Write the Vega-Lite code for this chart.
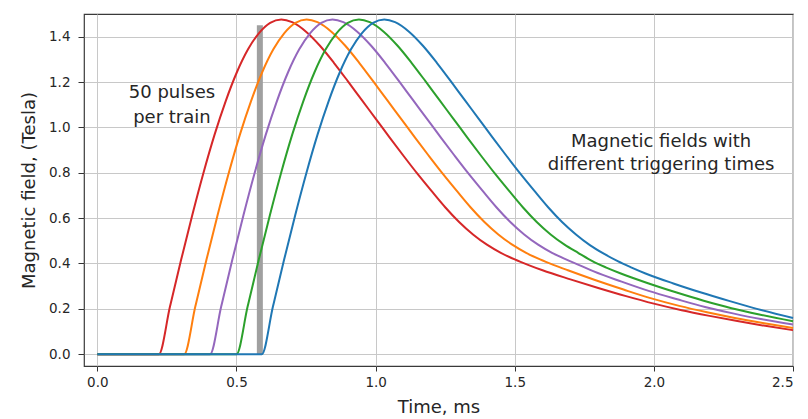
{
  "$schema": "https://vega.github.io/schema/vega-lite/v6.json",
  "width": 709,
  "height": 352,
  "autosize": {"type": "none"},
  "padding": {"left": 84, "top": 14, "right": 15, "bottom": 53},
  "background": "white",
  "config": {
    "view": {"stroke": "#3a3a3a", "strokeWidth": 1.2},
    "font": "DejaVu Sans",
    "axis": {
      "grid": true,
      "gridColor": "#c8c8c8",
      "gridWidth": 1,
      "domain": false,
      "tickColor": "#333333",
      "tickSize": 6,
      "labelColor": "#262626",
      "titleColor": "#262626",
      "labelFontSize": 13.5,
      "titleFontSize": 18,
      "titleFontWeight": "normal",
      "labelFont": "DejaVu Sans",
      "titleFont": "DejaVu Sans"
    }
  },
  "datasets": {
    "curves": [
      {"t": 0, "B": 0, "c": "1"}, {"t": 0.221, "B": 0, "c": "1"}, {"t": 0.261, "B": 0.21, "c": "1"}, {"t": 0.301, "B": 0.416, "c": "1"}, {"t": 0.341, "B": 0.613, "c": "1"}, {"t": 0.381, "B": 0.798, "c": "1"}, {"t": 0.421, "B": 0.967, "c": "1"}, {"t": 0.461, "B": 1.115, "c": "1"}, {"t": 0.501, "B": 1.242, "c": "1"}, {"t": 0.541, "B": 1.343, "c": "1"}, {"t": 0.581, "B": 1.416, "c": "1"}, {"t": 0.621, "B": 1.461, "c": "1"}, {"t": 0.661, "B": 1.476, "c": "1"},
      {"t": 0.70, "B": 1.464, "c": "1"}, {"t": 0.75, "B": 1.422, "c": "1"}, {"t": 0.80, "B": 1.36, "c": "1"}, {"t": 0.85, "B": 1.285, "c": "1"}, {"t": 0.90, "B": 1.204, "c": "1"}, {"t": 0.95, "B": 1.121, "c": "1"}, {"t": 1.00, "B": 1.039, "c": "1"}, {"t": 1.05, "B": 0.956, "c": "1"}, {"t": 1.10, "B": 0.875, "c": "1"}, {"t": 1.15, "B": 0.796, "c": "1"}, {"t": 1.20, "B": 0.721, "c": "1"}, {"t": 1.25, "B": 0.648, "c": "1"}, {"t": 1.30, "B": 0.583, "c": "1"}, {"t": 1.35, "B": 0.528, "c": "1"}, {"t": 1.40, "B": 0.483, "c": "1"}, {"t": 1.45, "B": 0.447, "c": "1"}, {"t": 1.50, "B": 0.418, "c": "1"}, {"t": 1.55, "B": 0.393, "c": "1"}, {"t": 1.60, "B": 0.37, "c": "1"}, {"t": 1.70, "B": 0.33, "c": "1"}, {"t": 1.80, "B": 0.292, "c": "1"}, {"t": 1.90, "B": 0.256, "c": "1"}, {"t": 2.00, "B": 0.223, "c": "1"}, {"t": 2.10, "B": 0.194, "c": "1"}, {"t": 2.20, "B": 0.169, "c": "1"}, {"t": 2.30, "B": 0.146, "c": "1"}, {"t": 2.40, "B": 0.125, "c": "1"}, {"t": 2.50, "B": 0.106, "c": "1"},

      {"t": 0, "B": 0, "c": "2"}, {"t": 0.312, "B": 0, "c": "2"}, {"t": 0.352, "B": 0.21, "c": "2"}, {"t": 0.392, "B": 0.416, "c": "2"}, {"t": 0.432, "B": 0.613, "c": "2"}, {"t": 0.472, "B": 0.798, "c": "2"}, {"t": 0.512, "B": 0.967, "c": "2"}, {"t": 0.552, "B": 1.115, "c": "2"}, {"t": 0.592, "B": 1.242, "c": "2"}, {"t": 0.632, "B": 1.343, "c": "2"}, {"t": 0.672, "B": 1.416, "c": "2"}, {"t": 0.712, "B": 1.461, "c": "2"}, {"t": 0.752, "B": 1.476, "c": "2"},
      {"t": 0.791, "B": 1.464, "c": "2"}, {"t": 0.841, "B": 1.422, "c": "2"}, {"t": 0.891, "B": 1.36, "c": "2"}, {"t": 0.941, "B": 1.285, "c": "2"}, {"t": 0.991, "B": 1.204, "c": "2"}, {"t": 1.041, "B": 1.121, "c": "2"}, {"t": 1.091, "B": 1.039, "c": "2"}, {"t": 1.141, "B": 0.956, "c": "2"}, {"t": 1.191, "B": 0.875, "c": "2"}, {"t": 1.241, "B": 0.796, "c": "2"}, {"t": 1.291, "B": 0.721, "c": "2"}, {"t": 1.341, "B": 0.648, "c": "2"}, {"t": 1.391, "B": 0.583, "c": "2"}, {"t": 1.441, "B": 0.528, "c": "2"}, {"t": 1.491, "B": 0.483, "c": "2"}, {"t": 1.541, "B": 0.447, "c": "2"}, {"t": 1.591, "B": 0.418, "c": "2"}, {"t": 1.641, "B": 0.393, "c": "2"}, {"t": 1.691, "B": 0.37, "c": "2"}, {"t": 1.791, "B": 0.326, "c": "2"}, {"t": 1.891, "B": 0.285, "c": "2"}, {"t": 1.991, "B": 0.246, "c": "2"}, {"t": 2.091, "B": 0.213, "c": "2"}, {"t": 2.191, "B": 0.185, "c": "2"}, {"t": 2.291, "B": 0.16, "c": "2"}, {"t": 2.391, "B": 0.138, "c": "2"}, {"t": 2.5, "B": 0.116, "c": "2"},

      {"t": 0, "B": 0, "c": "3"}, {"t": 0.405, "B": 0, "c": "3"}, {"t": 0.445, "B": 0.21, "c": "3"}, {"t": 0.485, "B": 0.416, "c": "3"}, {"t": 0.525, "B": 0.613, "c": "3"}, {"t": 0.565, "B": 0.798, "c": "3"}, {"t": 0.605, "B": 0.967, "c": "3"}, {"t": 0.645, "B": 1.115, "c": "3"}, {"t": 0.685, "B": 1.242, "c": "3"}, {"t": 0.725, "B": 1.343, "c": "3"}, {"t": 0.765, "B": 1.416, "c": "3"}, {"t": 0.805, "B": 1.461, "c": "3"}, {"t": 0.845, "B": 1.476, "c": "3"},
      {"t": 0.884, "B": 1.464, "c": "3"}, {"t": 0.934, "B": 1.422, "c": "3"}, {"t": 0.984, "B": 1.36, "c": "3"}, {"t": 1.034, "B": 1.285, "c": "3"}, {"t": 1.084, "B": 1.204, "c": "3"}, {"t": 1.134, "B": 1.121, "c": "3"}, {"t": 1.184, "B": 1.039, "c": "3"}, {"t": 1.234, "B": 0.956, "c": "3"}, {"t": 1.284, "B": 0.875, "c": "3"}, {"t": 1.334, "B": 0.796, "c": "3"}, {"t": 1.384, "B": 0.721, "c": "3"}, {"t": 1.434, "B": 0.648, "c": "3"}, {"t": 1.484, "B": 0.583, "c": "3"}, {"t": 1.534, "B": 0.528, "c": "3"}, {"t": 1.584, "B": 0.483, "c": "3"}, {"t": 1.634, "B": 0.447, "c": "3"}, {"t": 1.684, "B": 0.418, "c": "3"}, {"t": 1.734, "B": 0.392, "c": "3"}, {"t": 1.784, "B": 0.365, "c": "3"}, {"t": 1.884, "B": 0.32, "c": "3"}, {"t": 1.984, "B": 0.278, "c": "3"}, {"t": 2.084, "B": 0.242, "c": "3"}, {"t": 2.184, "B": 0.208, "c": "3"}, {"t": 2.284, "B": 0.18, "c": "3"}, {"t": 2.384, "B": 0.155, "c": "3"}, {"t": 2.5, "B": 0.131, "c": "3"},

      {"t": 0, "B": 0, "c": "4"}, {"t": 0.5, "B": 0, "c": "4"}, {"t": 0.54, "B": 0.21, "c": "4"}, {"t": 0.58, "B": 0.416, "c": "4"}, {"t": 0.62, "B": 0.613, "c": "4"}, {"t": 0.66, "B": 0.798, "c": "4"}, {"t": 0.70, "B": 0.967, "c": "4"}, {"t": 0.74, "B": 1.115, "c": "4"}, {"t": 0.78, "B": 1.242, "c": "4"}, {"t": 0.82, "B": 1.343, "c": "4"}, {"t": 0.86, "B": 1.416, "c": "4"}, {"t": 0.90, "B": 1.461, "c": "4"}, {"t": 0.94, "B": 1.476, "c": "4"},
      {"t": 0.979, "B": 1.464, "c": "4"}, {"t": 1.029, "B": 1.422, "c": "4"}, {"t": 1.079, "B": 1.36, "c": "4"}, {"t": 1.129, "B": 1.285, "c": "4"}, {"t": 1.179, "B": 1.204, "c": "4"}, {"t": 1.229, "B": 1.121, "c": "4"}, {"t": 1.279, "B": 1.039, "c": "4"}, {"t": 1.329, "B": 0.956, "c": "4"}, {"t": 1.379, "B": 0.875, "c": "4"}, {"t": 1.429, "B": 0.796, "c": "4"}, {"t": 1.479, "B": 0.721, "c": "4"}, {"t": 1.529, "B": 0.648, "c": "4"}, {"t": 1.579, "B": 0.583, "c": "4"}, {"t": 1.629, "B": 0.528, "c": "4"}, {"t": 1.679, "B": 0.483, "c": "4"}, {"t": 1.729, "B": 0.446, "c": "4"}, {"t": 1.779, "B": 0.41, "c": "4"}, {"t": 1.829, "B": 0.382, "c": "4"}, {"t": 1.879, "B": 0.357, "c": "4"}, {"t": 1.979, "B": 0.313, "c": "4"}, {"t": 2.079, "B": 0.273, "c": "4"}, {"t": 2.179, "B": 0.236, "c": "4"}, {"t": 2.279, "B": 0.203, "c": "4"}, {"t": 2.379, "B": 0.175, "c": "4"}, {"t": 2.5, "B": 0.145, "c": "4"},

      {"t": 0, "B": 0, "c": "5"}, {"t": 0.591, "B": 0, "c": "5"}, {"t": 0.631, "B": 0.21, "c": "5"}, {"t": 0.671, "B": 0.416, "c": "5"}, {"t": 0.711, "B": 0.613, "c": "5"}, {"t": 0.751, "B": 0.798, "c": "5"}, {"t": 0.791, "B": 0.967, "c": "5"}, {"t": 0.831, "B": 1.115, "c": "5"}, {"t": 0.871, "B": 1.242, "c": "5"}, {"t": 0.911, "B": 1.343, "c": "5"}, {"t": 0.951, "B": 1.416, "c": "5"}, {"t": 0.991, "B": 1.461, "c": "5"}, {"t": 1.031, "B": 1.476, "c": "5"},
      {"t": 1.07, "B": 1.464, "c": "5"}, {"t": 1.12, "B": 1.422, "c": "5"}, {"t": 1.17, "B": 1.36, "c": "5"}, {"t": 1.22, "B": 1.285, "c": "5"}, {"t": 1.27, "B": 1.204, "c": "5"}, {"t": 1.32, "B": 1.121, "c": "5"}, {"t": 1.37, "B": 1.039, "c": "5"}, {"t": 1.42, "B": 0.956, "c": "5"}, {"t": 1.47, "B": 0.875, "c": "5"}, {"t": 1.52, "B": 0.796, "c": "5"}, {"t": 1.57, "B": 0.721, "c": "5"}, {"t": 1.62, "B": 0.648, "c": "5"}, {"t": 1.67, "B": 0.583, "c": "5"}, {"t": 1.72, "B": 0.528, "c": "5"}, {"t": 1.77, "B": 0.481, "c": "5"}, {"t": 1.82, "B": 0.443, "c": "5"}, {"t": 1.87, "B": 0.41, "c": "5"}, {"t": 1.92, "B": 0.382, "c": "5"}, {"t": 1.97, "B": 0.356, "c": "5"}, {"t": 2.07, "B": 0.312, "c": "5"}, {"t": 2.17, "B": 0.272, "c": "5"}, {"t": 2.27, "B": 0.235, "c": "5"}, {"t": 2.37, "B": 0.2, "c": "5"}, {"t": 2.5, "B": 0.16, "c": "5"}
    ],
    "bar": [{"t": 0.584, "B": 0, "B2": 1.45}],
    "notes": [
      {"t": 0.268, "B": 1.152, "text": "50 pulses"},
      {"t": 0.268, "B": 1.041, "text": "per train"},
      {"t": 2.026, "B": 0.937, "text": "Magnetic fields with"},
      {"t": 2.026, "B": 0.834, "text": "different triggering times"}
    ]
  },
  "encoding": {
    "x": {
      "field": "t",
      "type": "quantitative",
      "scale": {"domain": [-0.048, 2.5], "nice": false, "zero": false},
      "axis": {"values": [0, 0.5, 1, 1.5, 2, 2.5], "format": ".1f", "title": "Time, ms", "tickSize": 5, "labelPadding": 4, "titlePadding": 10}
    },
    "y": {
      "field": "B",
      "type": "quantitative",
      "scale": {"domain": [-0.052, 1.5], "nice": false, "zero": false},
      "axis": {"values": [0, 0.2, 0.4, 0.6, 0.8, 1.0, 1.2, 1.4], "format": ".1f", "title": "Magnetic field, (Tesla)", "tickSize": 6, "labelPadding": 8, "titlePadding": 10}
    }
  },
  "layer": [
    {
      "data": {"name": "bar"},
      "mark": {"type": "rule", "color": "#a0a0a0", "strokeWidth": 6},
      "encoding": {"y2": {"field": "B2"}}
    },
    {
      "data": {"name": "curves"},
      "mark": {"type": "line", "strokeWidth": 2, "interpolate": "monotone"},
      "encoding": {
        "color": {
          "field": "c",
          "type": "nominal",
          "scale": {"domain": ["1", "2", "3", "4", "5"], "range": ["#d62728", "#ff7f0e", "#9467bd", "#2ca02c", "#1f77b4"]},
          "legend": null
        }
      }
    },
    {
      "data": {"name": "notes"},
      "mark": {"type": "text", "fontSize": 18, "color": "#262626", "align": "center", "baseline": "middle", "font": "DejaVu Sans"},
      "encoding": {"text": {"field": "text", "type": "nominal"}}
    }
  ]
}
